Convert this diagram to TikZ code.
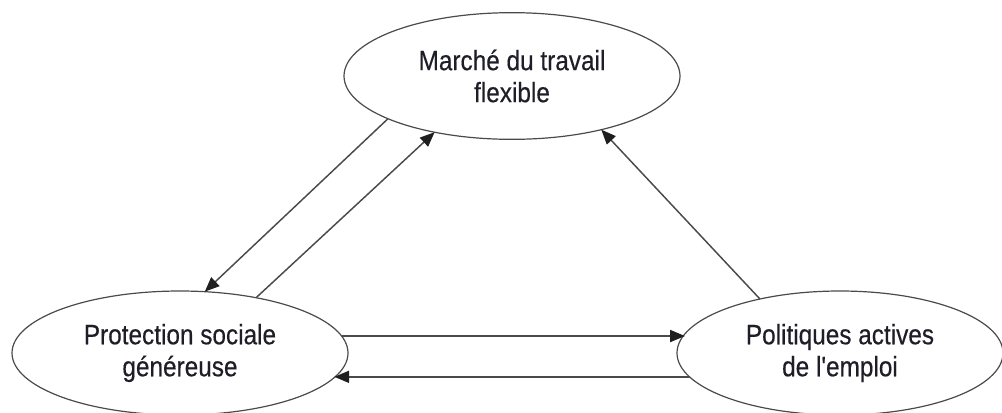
\documentclass[tikz,border=0pt]{standalone}
\usepackage{fontspec}
\setmainfont{Liberation Sans}[FakeStretch=0.87,FakeBold=0.4,Ligatures=TeXOff]
\usetikzlibrary{shapes.geometric,arrows.meta}
\definecolor{linec}{HTML}{4A4A4A}
\definecolor{txtc}{HTML}{1E1E28}
\begin{document}
\begin{tikzpicture}[x=0.75pt,y=-0.75pt,
  ell/.style={ellipse,draw=linec,line width=0.9pt,inner sep=0pt,outer sep=0pt,
    align=center,text=txtc,font=\fontsize{21}{24}\selectfont},
  conn/.style={draw=linec,line width=1.1pt,
    -{Triangle[length=11pt,width=9pt,color=black!88]}}]
\useasboundingbox (0,0) rectangle (1002,412);
\node[ell,minimum width=252pt,minimum height=95pt] (top) at (512,76) {Marché du travail\\flexible};
\node[ell,minimum width=252pt,minimum height=93pt] (bl) at (180,353) {Protection sociale\\généreuse};
\node[ell,minimum width=244.5pt,minimum height=93pt] (br) at (840,353) {Politiques actives\\de l'emploi};
\draw[conn] (top.199.8) -- (bl.68.4);
\draw[conn] (bl.36) -- (top.216.5);
\draw[conn] (br.146.1) -- (top.329.9);
\draw[conn] (bl.6.4) -- (bl.6.4 -| br.173.4);
\draw[conn] (br.189.1) -- (br.189.1 -| bl.351.2);
\end{tikzpicture}
\end{document}
